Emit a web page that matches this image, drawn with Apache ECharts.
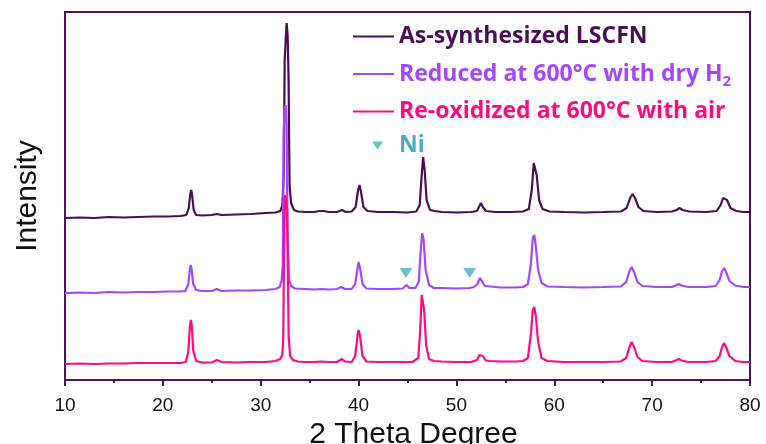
<!DOCTYPE html>
<html>
<head>
<meta charset="utf-8">
<script src="https://cdn.jsdelivr.net/npm/echarts@6/dist/echarts.min.js"></script>
<style>
html,body{margin:0;padding:0;background:#fff;}
#chart{width:766px;height:444px;}
</style>
</head>
<body>
<div id="chart"></div>
<script>
// 2θ (degree) vs offset intensity (a.u.)
const seriesNames = ['As-synthesized LSCFN', 'Reduced at 600°C with dry H2', 'Re-oxidized at 600°C with air', 'Ni'];
const xTicks = [10, 20, 30, 40, 50, 60, 70, 80];

const asSynthesized = [
[10,162],[11.5,162.5],[13,162],[14.5,163],[16,162.5],[17.5,163],[19,163.5],[20.5,163.5],[21.8,164],
[22.4,165],[22.65,172],[22.8,186],[22.9,190],[23.0,184],[23.15,170],[23.4,165],[24,164.5],
[25,165],[25.5,166],[26,165],[27.5,165.5],[29,166],[30.5,167],[31.5,167.5],
[32.0,169],[32.2,174],[32.35,205],[32.45,320],[32.55,340],[32.65,357],[32.75,345],[32.85,300],[32.95,195],[33.1,177],[33.4,170],[33.8,168.5],
[34.5,168],[35.5,168],[36.0,169],[36.2,171],[36.4,169],[37,168],[37.8,168],[38.3,170],[38.7,168],
[39.3,168.5],[39.7,173],[39.95,190],[40.1,195],[40.25,188],[40.5,173],[40.9,169],
[42,168],[43.5,168],[45,167.5],[45.9,168.5],[46.25,175],[46.45,205],[46.6,223],[46.75,210],[46.95,180],[47.3,170],[47.8,169],
[48.5,168],[50,167.5],[51.5,168],[52.1,169],[52.35,174],[52.5,177],[52.7,173],[53,169],[54,168],[55.5,168],[56.8,168.5],
[57.4,171],[57.7,190],[57.9,217],[58.05,219],[58.2,205],[58.45,180],[58.8,171],[59.5,168.5],
[61,168],[63,167.5],[65,168],[66.8,168.5],[67.4,172],[67.75,182],[68.0,186],[68.25,182],[68.6,173],[69.1,169],
[70.5,168],[72,168.5],[72.5,170],[72.8,172],[73.1,170],[73.8,168.5],[75.5,168],[76.6,169],
[77.0,175],[77.25,182],[77.45,184],[77.65,180],[78.0,172],[78.6,169],[79.3,168],[80,168]
];

const reducedH2 = [
[10,87],[11.5,87.5],[13,87],[14.5,88],[16,87.5],[17.5,88],[19,88],[20.5,88.5],[21.8,88.5],
[22.3,89],[22.6,96],[22.75,110],[22.85,115],[22.95,110],[23.1,96],[23.4,90],[24,89],
[25,89],[25.5,91],[26,89],[27.5,89.5],[29,89.5],[30.5,90],[31.5,91],
[31.95,93],[32.15,100],[32.25,115],[32.35,250],[32.45,272],[32.55,275],[32.65,255],[32.75,140],[32.9,100],[33.1,94],[33.5,91.5],
[34.5,91],[35.5,90.5],[36.2,91],[37,90.5],[37.8,91],[38.2,93],[38.6,91],
[39.3,91],[39.65,96],[39.9,112],[40.0,118],[40.15,112],[40.4,96],[40.8,91.5],
[42,91],[43.5,91],[44.5,91.5],[44.9,95],[45.2,92],[45.8,92],[46.15,98],[46.35,130],[46.5,147],[46.65,140],[46.85,110],[47.2,95],[47.7,92],
[48.5,92],[50,91.5],[51.3,92],[51.8,93],[52.15,96],[52.4,102],[52.6,99],[52.9,94],[53.5,93.5],[54.5,92.5],[56,92.5],[56.8,93],
[57.3,96],[57.6,115],[57.8,142],[57.95,145],[58.1,135],[58.35,110],[58.7,97],[59.3,93.5],
[61,93],[63,92.5],[65,93],[66.8,93.5],[67.35,98],[67.65,108],[67.9,113],[68.15,108],[68.5,98],[69,94],
[70.5,93],[72,93],[72.4,94.5],[72.7,96],[73,94.5],[73.7,93],[75.5,93],[76.5,94],
[76.9,100],[77.15,109],[77.35,112],[77.55,108],[77.9,99],[78.5,94.5],[79.3,93],[80,93]
];

const reoxidizedAir = [
[10,16],[11.5,16.5],[13,16],[14.5,16.5],[16,16.5],[17.5,17],[19,17],[20.5,17],[21.8,17],
[22.35,18],[22.6,28],[22.75,52],[22.85,60],[22.95,55],[23.1,30],[23.4,19],[24,17.5],
[25,17.5],[25.5,20],[26,18],[27.5,17.5],[29,18],[30.5,18],[31.5,19],
[32.0,21],[32.2,25],[32.3,40],[32.4,150],[32.5,185],[32.6,187],[32.7,170],[32.85,45],[33.0,24],[33.3,20],[33.8,18.5],
[34.5,18],[35.5,18],[36.2,18.5],[37,18],[37.8,18],[38.3,21],[38.6,18.5],
[39.3,18],[39.65,24],[39.9,45],[40.0,50],[40.15,44],[40.4,24],[40.8,18.5],
[42,18],[43.5,18],[44.5,18],[45.5,18],[46.1,22],[46.3,50],[46.45,85],[46.55,87],[46.7,70],[46.9,35],[47.2,21],[47.7,19],
[48.5,18.5],[50,18],[51.5,18],[52.1,20],[52.35,25],[52.5,27],[52.7,24],[53,19.5],[53.5,19],[54.5,18.5],[56,18.5],[56.8,19],
[57.3,22],[57.6,45],[57.8,70],[57.95,73],[58.1,65],[58.35,38],[58.7,22],[59.3,19],
[61,18],[63,18],[65,18],[66.8,18.5],[67.35,22],[67.65,32],[67.9,38],[68.15,33],[68.5,23],[69,19],
[70.5,18],[72,18],[72.4,19.5],[72.7,21],[73,19.5],[73.7,18],[75.5,18],[76.5,19],
[76.9,24],[77.15,33],[77.35,37],[77.55,33],[77.9,24],[78.5,19],[79.3,18],[80,18]
];

const niMarkers = [[44.85, 107], [51.35, 107]];

const colors = ['#4a0d57', '#a346ff', '#ff0a80', '#4bacc6'];
const frameColor = '#4a1266';
const legendFont = 'Open Sans';

const chart = echarts.init(document.getElementById('chart'), null, {renderer: 'canvas'});
const lineIcon = 'path://M0,0L40,0L40,2L0,2Z';
const triIcon = 'path://M0,0M41,14M19,3L30,3L24.5,11Z';

chart.setOption({
  animation: false,
  backgroundColor: '#ffffff',
  grid: {left: 65, right: 16, top: 12, bottom: 64, show: true, borderColor: frameColor, borderWidth: 2,
    containLabel: false, outerBoundsMode: 'none'},
  legend: {
    orient: 'vertical', left: 353, top: 25, padding: 0,
    itemWidth: 41, itemHeight: 14, itemGap: 11,
    selectedMode: false,
    textStyle: {fontFamily: legendFont, fontWeight: 'bold', fontSize: 23, lineHeight: 22,
      rich: {
        r: {color: colors[1], fontFamily: legendFont, fontWeight: 'bold', fontSize: 23, lineHeight: 30},
        rs: {color: colors[1], fontFamily: legendFont, fontWeight: 'bold', fontSize: 15, lineHeight: 30, verticalAlign: 'bottom'}
      }
    },
    formatter: function (name) {
      if (name === seriesNames[1]) return '{r|Reduced at 600°C with dry H}{rs|2}';
      return name;
    },
    data: [
      {name: seriesNames[0], icon: lineIcon, textStyle: {color: colors[0]}},
      {name: seriesNames[1], icon: lineIcon, textStyle: {color: colors[1]}},
      {name: seriesNames[2], icon: lineIcon, textStyle: {color: colors[2]}},
      {name: seriesNames[3], icon: triIcon, textStyle: {color: colors[3]}}
    ]
  },
  xAxis: {
    type: 'value', min: 10, max: 80, interval: 10,
    name: '2 Theta Degree', nameLocation: 'middle', nameGap: 37,
    nameTextStyle: {fontFamily: 'Liberation Sans', fontSize: 30, color: '#111', padding: [0, 0, 0, 12]},
    axisLine: {show: true, lineStyle: {color: frameColor, width: 2}},
    axisTick: {show: true, inside: false, length: 6, lineStyle: {color: frameColor, width: 2}},
    minorTick: {show: true, splitNumber: 2, length: 3, lineStyle: {color: frameColor, width: 2}},
    axisLabel: {fontFamily: 'Liberation Sans', fontSize: 19, color: '#111', margin: 16,
      formatter: function (v) { return xTicks.indexOf(v) >= 0 ? String(v) : ''; }},
    splitLine: {show: false}
  },
  yAxis: {
    type: 'value', min: 0, max: 368,
    name: 'Intensity', nameLocation: 'middle', nameGap: 22,
    nameTextStyle: {fontFamily: 'Liberation Sans', fontSize: 30, color: '#111'},
    axisLine: {show: true, lineStyle: {color: frameColor, width: 2}},
    axisTick: {show: false}, axisLabel: {show: false}, splitLine: {show: false}
  },
  series: [
    {name: seriesNames[0], type: 'line', data: asSynthesized, showSymbol: false, color: colors[0], lineStyle: {color: colors[0], width: 2.2}},
    {name: seriesNames[1], type: 'line', data: reducedH2, showSymbol: false, color: colors[1], lineStyle: {color: colors[1], width: 2.2}},
    {name: seriesNames[2], type: 'line', data: reoxidizedAir, showSymbol: false, color: colors[2], lineStyle: {color: colors[2], width: 2.2}},
    {name: seriesNames[3], type: 'scatter', data: niMarkers, symbol: 'path://M0,0L12,0L6,9Z', symbolSize: [13, 10], color: colors[3], itemStyle: {color: colors[3]}, z: 5}
  ]
});
</script>
</body>
</html>
